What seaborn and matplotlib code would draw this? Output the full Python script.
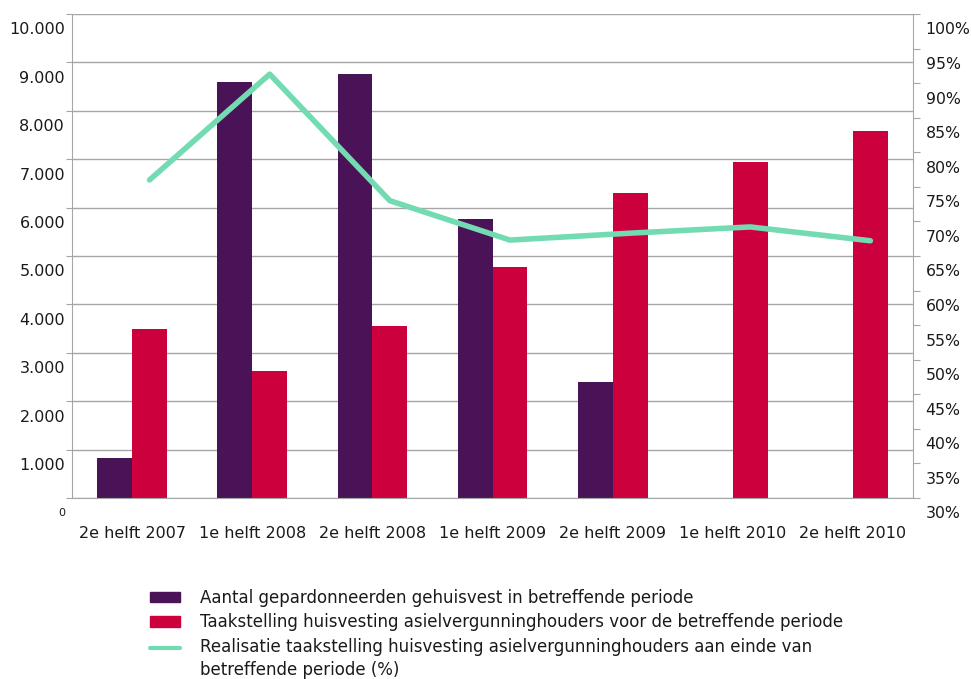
import numpy as np
import pandas as pd
import matplotlib
matplotlib.use("Agg")
import matplotlib.pyplot as plt
import matplotlib.transforms as mtransforms
import seaborn as sns
from matplotlib.patches import Patch
from matplotlib.lines import Line2D
from matplotlib.legend_handler import HandlerLine2D

# ---------- Data ----------
periods = ["2e helft 2007", "1e helft 2008", "2e helft 2008", "1e helft 2009",
           "2e helft 2009", "1e helft 2010", "2e helft 2010"]
gepardonneerden = [830, 8600, 8760, 5760, 2400, np.nan, np.nan]
taakstelling = [3490, 2620, 3550, 4770, 6300, 6940, 7580]
realisatie_pct = [76.0, 91.3, 73.0, 67.3, 68.3, 69.2, 67.2]

lbl_bar1 = "Aantal gepardonneerden gehuisvest in betreffende periode"
lbl_bar2 = "Taakstelling huisvesting asielvergunninghouders voor de betreffende periode"
lbl_line = "Realisatie taakstelling huisvesting asielvergunninghouders aan einde van\nbetreffende periode (%)"

left_ticks = np.arange(0, 10001, 1000)
left_labels = ["0", "1.000", "2.000", "3.000", "4.000", "5.000",
               "6.000", "7.000", "8.000", "9.000", "10.000"]
right_ticks = np.arange(30, 101, 5)

PURPLE = "#4b1357"
RED = "#cc003d"
GREEN = "#72dbb1"
GRID = "#a6a6a6"
TXT = "#1a1a1a"

df = pd.DataFrame({
    "periode": periods * 2,
    "waarde": gepardonneerden + taakstelling,
    "serie": [lbl_bar1] * len(periods) + [lbl_bar2] * len(periods),
})


# legend line handle aligned with first line of a two-line label
class TopLineHandler(HandlerLine2D):
    def create_artists(self, legend, orig_handle, xdescent, ydescent,
                       width, height, fontsize, trans):
        return super().create_artists(legend, orig_handle, xdescent,
                                      ydescent - 1.45 * fontsize, width, height,
                                      fontsize, trans)


sns.set_style("white")
plt.rcParams["font.family"] = ["DejaVu Sans"]

fig = plt.figure(figsize=(9.71, 6.79), dpi=100)
ax = fig.add_axes([0.0742, 0.2666, 0.8661, 0.7128])

sns.barplot(data=df, x="periode", y="waarde", hue="serie", order=periods,
            hue_order=[lbl_bar1, lbl_bar2], palette=[PURPLE, RED],
            width=0.58, saturation=1, linewidth=0, ax=ax, legend=False)

ax.set_xlim(-0.5, len(periods) - 0.5)
ax.set_ylim(0, 10000)
ax.set_yticks(left_ticks)
ax.set_yticklabels(left_labels)
ax.yaxis.grid(True, color=GRID, linewidth=1)
ax.set_axisbelow(True)
ax.set_xlabel("")
ax.set_ylabel("")
for s in ["left", "right", "bottom"]:
    ax.spines[s].set_color(GRID)
ax.spines["top"].set_visible(False)

ax.tick_params(axis="y", length=4, color=GRID, pad=1, labelsize=11.5, labelcolor=TXT)
ax.tick_params(axis="x", which="major", length=0, pad=20, labelsize=11.5, labelcolor=TXT)
ax.set_xticks(np.arange(-0.5, len(periods), 1.0), minor=True)
ax.tick_params(axis="x", which="minor", length=5, color=GRID)

# labels sit a bit below their gridlines, as in the original
down = mtransforms.ScaledTranslation(0, -0.145, fig.dpi_scale_trans)
for t in ax.yaxis.get_major_ticks():
    t.label1.set_transform(t.label1.get_transform() + down)
ax.yaxis.get_major_ticks()[0].label1.set_fontsize(8)

# ---------- Line on secondary axis ----------
ax2 = ax.twinx()
line_x = np.arange(len(periods)) + 0.145
sns.lineplot(x=line_x, y=realisatie_pct, color=GREEN, linewidth=4,
             ax=ax2, legend=False)
ax2.set_ylim(30, 100)
ax2.set_yticks(right_ticks)
ax2.set_yticklabels([f"{v}%" for v in right_ticks])
ax2.tick_params(axis="y", length=5, color=GRID, pad=4, labelsize=11.3, labelcolor=TXT)
for s in ["left", "right", "bottom", "top"]:
    ax2.spines[s].set_visible(False)
ax2.grid(False)
for t in ax2.yaxis.get_major_ticks():
    t.label2.set_transform(t.label2.get_transform() + down)

# ---------- Legend ----------
line_handle = Line2D([0], [0], color=GREEN, linewidth=3, label=lbl_line)
handles = [Patch(color=PURPLE, label=lbl_bar1),
           Patch(color=RED, label=lbl_bar2),
           line_handle]
leg = fig.legend(handles=handles, loc="upper left", bbox_to_anchor=(0.154, 0.133),
                 frameon=False, fontsize=12, handlelength=1.8, handleheight=0.6,
                 handletextpad=1.2, labelspacing=0.4, borderaxespad=0, borderpad=0,
                 labelcolor=TXT, handler_map={line_handle: TopLineHandler()})
leg.get_texts()[2].set_linespacing(1.35)

fig.savefig("out.png", dpi=100)
